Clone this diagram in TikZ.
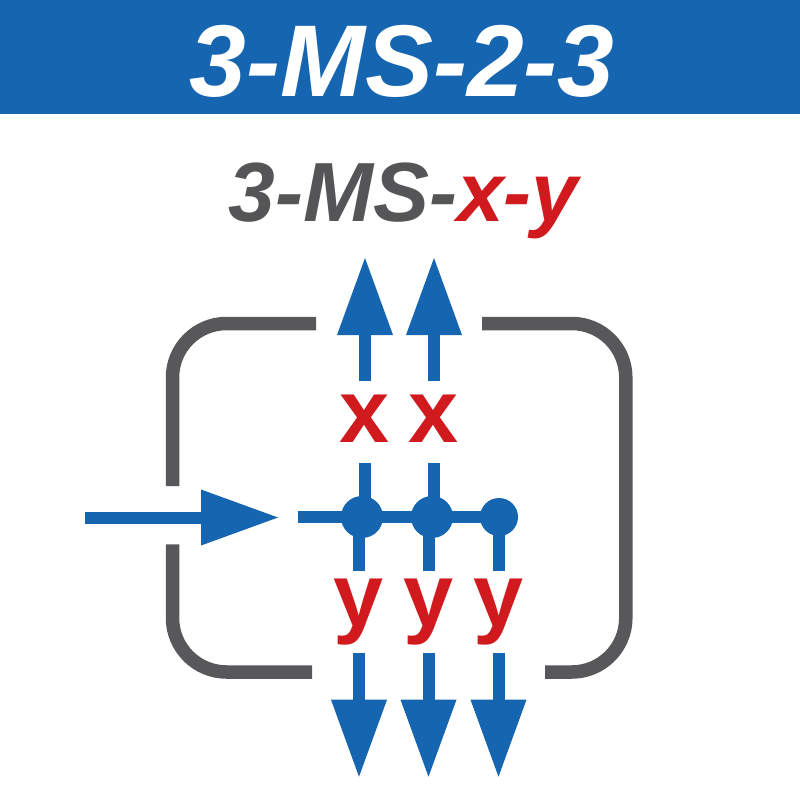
\documentclass[tikz,border=0pt]{standalone}
\usepackage{fontspec}
\setmainfont{Liberation Sans}
\usetikzlibrary{arrows.meta}

\definecolor{hdrblue}{RGB}{21,101,176}
\definecolor{frmgray}{RGB}{88,88,90}
\definecolor{txtgray}{RGB}{85,85,87}
\definecolor{lblred}{RGB}{208,26,30}

\tikzset{every picture/.style={line width=0.75pt}}
\tikzset{
	flow/.style={draw=hdrblue, line width=12pt},
	flowtip/.style={-{Triangle[length=77pt,width=56pt,line width=0pt]}},
	frame/.style={draw=frmgray, line width=13.5pt, rounded corners=54pt},
	knot/.style={circle, fill=hdrblue, inner sep=0pt, minimum size=#1},
	xlab/.style={font=\fontsize{90}{90}\selectfont\bfseries, text=lblred, inner sep=0pt, text height=61pt, text depth=20pt},
	ylab/.style={font=\fontsize{90}{90}\selectfont\bfseries, text=lblred, inner sep=0pt, text height=55pt, text depth=26pt}
}

\begin{document}
\begin{tikzpicture}[x=1pt,y=1pt,yscale=-1,xscale=1]
	\useasboundingbox (0,0) rectangle (800,800);

	%Shape: Rectangle [header band]
	\fill [hdrblue] (0,0) rectangle (800,114);
	% Text Node
	\node (title) [anchor=base, text=white, font=\fontsize{102}{102}\selectfont\bfseries\itshape] at (402,96) {3-MS-2-3};
	% Text Node
	\node (pattern) [anchor=base, font=\fontsize{84}{84}\selectfont\bfseries\itshape] at (403.5,221.7) {{\color{txtgray}3-MS-}{\color{lblred}x-y}};

	%Shape: Frame, three open pieces
	\draw [frame] (316,323.5) -- (172.5,323.5) -- (172.5,486);
	\draw [frame] (172.5,544.3) -- (172.5,672) -- (312,672);
	\draw [frame] (482,323.5) -- (625.8,323.5) -- (625.8,672) -- (545,672);

	%Junction dots
	\node (d1) [knot=42pt] at (362,517) {};
	\node (d2) [knot=42pt] at (432,517) {};
	\node (d3) [knot=38pt] at (499,517) {};

	%Labels
	\node (x1) [xlab] at (365,422) {x};
	\node (x2) [xlab] at (434,422) {x};
	\node (y1) [ylab] at (359,612) {y};
	\node (y2) [ylab] at (428.5,612) {y};
	\node (y3) [ylab] at (498.5,612) {y};

	%Arrow ends
	\coordinate (src) at (85,517.5);
	\coordinate (srcTip) at (278,517.5);
	\coordinate (busStart) at (298,517);
	\coordinate (t1) at (365,258);
	\coordinate (t2) at (434,258);
	\coordinate (b1) at (359,776.7);
	\coordinate (b2) at (428.5,776.7);
	\coordinate (b3) at (498.5,776.7);

	%Straight Lines [input]
	\draw [flow,flowtip] (src) -- (srcTip);
	%Straight Lines [bus]
	\draw [flow] (busStart) -- (d3.center);

	%Straight Lines [up]
	\draw [flow] (x1.south |- d1.center) -- (x1.south);
	\draw [flow,flowtip] (x1.north) -- (t1);
	\draw [flow] (x2.south |- d2.center) -- (x2.south);
	\draw [flow,flowtip] (x2.north) -- (t2);

	%Straight Lines [down]
	\draw [flow] (y1.north |- d1.center) -- (y1.north);
	\draw [flow,flowtip] (y1.south) -- (b1);
	\draw [flow] (y2.north |- d2.center) -- (y2.north);
	\draw [flow,flowtip] (y2.south) -- (b2);
	\draw [flow] (y3.north |- d3.center) -- (y3.north);
	\draw [flow,flowtip] (y3.south) -- (b3);

\end{tikzpicture}
\end{document}
